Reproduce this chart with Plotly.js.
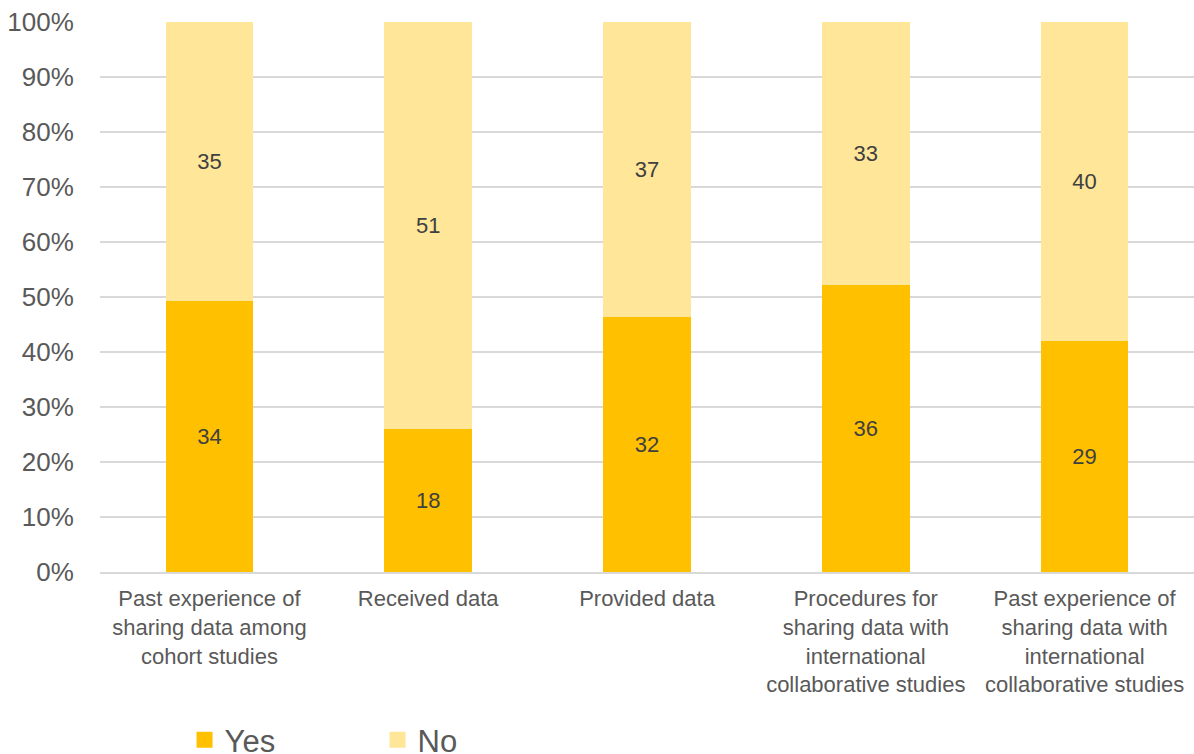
<!DOCTYPE html>
<html>
<head>
<meta charset="utf-8">
<script src="https://cdn.plot.ly/plotly-3.0.1.min.js"></script>
<style>
  html, body { margin: 0; padding: 0; background: #ffffff; }
  #chart { width: 1194px; height: 754px; }
</style>
</head>
<body>
<div id="chart"></div>
<script>
// Survey items on data sharing (response counts per item)
const categories = [
  "Past experience of<br>sharing data among<br>cohort studies",
  "Received data",
  "Provided data",
  "Procedures for<br>sharing data with<br>international<br>collaborative studies",
  "Past experience of<br>sharing data with<br>international<br>collaborative studies"
];
const yesCounts = [34, 18, 32, 36, 29];
const noCounts  = [35, 51, 37, 33, 40];
const seriesNames = ["Yes", "No"];
const yTickVals  = [0, 10, 20, 30, 40, 50, 60, 70, 80, 90, 100];
const yTickTexts = ["0%", "10%", "20%", "30%", "40%", "50%", "60%", "70%", "80%", "90%", "100%"];

const FONT = "Arial, 'Liberation Sans', sans-serif";
const COLORS = ["#FFC000", "#FFE699"];

function stackTrace(name, counts, color) {
  return {
    type: "bar",
    name: name,
    x: categories,
    y: counts,
    text: counts.map(String),
    textposition: "inside",
    insidetextanchor: "middle",
    textangle: 0,
    textfont: { family: FONT, size: 22, color: "#404040" },
    marker: { color: color },
    showlegend: false
  };
}

// Key entries with a blank value (nothing drawn) so the legend squares can be larger
function keyTrace(name, color) {
  return {
    type: "bar",
    name: name,
    x: [categories[0]],
    y: [null],
    marker: { color: color, line: { color: color, width: 4 } },
    showlegend: true
  };
}

const data = [
  stackTrace(seriesNames[0], yesCounts, COLORS[0]),
  stackTrace(seriesNames[1], noCounts, COLORS[1]),
  keyTrace(seriesNames[0], COLORS[0]),
  keyTrace(seriesNames[1], COLORS[1])
];

const layout = {
  width: 1194,
  height: 754,
  margin: { l: 100, r: 0, t: 22, b: 182, autoexpand: false },
  paper_bgcolor: "#ffffff",
  plot_bgcolor: "#ffffff",
  barmode: "stack",
  barnorm: "percent",
  bargap: 0.6,
  font: { family: FONT, color: "#595959" },
  xaxis: {
    type: "category",
    automargin: false,
    tickfont: { family: FONT, size: 22, color: "#595959" },
    ticks: "outside",
    ticklen: 6,
    tickcolor: "rgba(0,0,0,0)",
    showline: true,
    linecolor: "#D9D9D9",
    linewidth: 2,
    showgrid: false,
    fixedrange: true
  },
  yaxis: {
    range: [0, 100],
    automargin: false,
    tickmode: "array",
    tickvals: yTickVals,
    ticktext: yTickTexts,
    tickfont: { family: FONT, size: 26, color: "#595959" },
    ticks: "outside",
    ticklen: 20,
    tickcolor: "rgba(0,0,0,0)",
    showgrid: true,
    gridcolor: "#D9D9D9",
    gridwidth: 2,
    zeroline: false,
    showline: false,
    fixedrange: true
  },
  showlegend: true,
  legend: {
    orientation: "h",
    x: 0.0773,
    xanchor: "left",
    y: -0.2565,
    yanchor: "top",
    font: { family: FONT, size: 31, color: "#595959" },
    entrywidth: 148,
    itemwidth: 30,
    traceorder: "normal"
  }
};

Plotly.newPlot("chart", data, layout, { displayModeBar: false, staticPlot: true });
</script>
</body>
</html>
